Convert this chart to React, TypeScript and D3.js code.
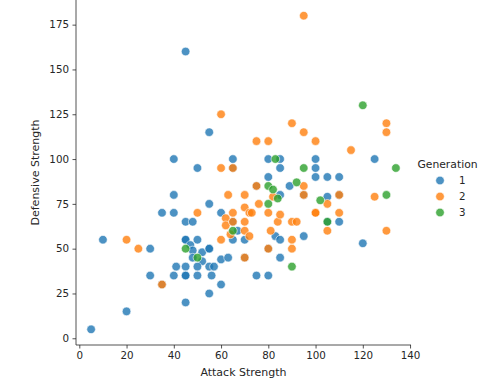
import { useRef, useEffect } from 'react';
import * as d3 from 'd3';

// attack / defense pairs, one list per generation
const gen1: [number, number][] = [
  [5, 5], [10, 55], [20, 15], [30, 50], [30, 35], [35, 70], [35, 30], [40, 100], [40, 80],
  [40, 70], [40, 35], [41, 40], [45, 160], [45, 65], [48, 65], [45, 55], [45, 55], [50, 55],
  [47, 52], [48, 49], [52, 48], [55, 50], [55, 50], [48, 45], [52, 43], [45, 40], [50, 40],
  [55, 40], [57, 40], [60, 44], [63, 45], [45, 35], [45, 35], [50, 35], [56, 35], [60, 30],
  [55, 25], [45, 20], [75, 35], [80, 35], [65, 55], [70, 55], [83, 57], [50, 95], [55, 115],
  [55, 75], [60, 70], [65, 100], [65, 95], [65, 65], [67, 60], [70, 45], [80, 50], [80, 100],
  [85, 100], [85, 95], [80, 90], [75, 85], [89, 85], [85, 80], [85, 55], [85, 45], [95, 57],
  [95, 80], [100, 100], [100, 95], [100, 90], [105, 90], [110, 90], [105, 79], [110, 80],
  [110, 65], [105, 65], [120, 53], [125, 100],
];

const gen2: [number, number][] = [
  [20, 55], [25, 50], [35, 30], [50, 70], [60, 125], [60, 95], [65, 95], [63, 80], [70, 80],
  [70, 73], [65, 70], [72, 70], [62, 67], [62, 63], [65, 65], [70, 65], [70, 60], [64, 58],
  [72, 57], [60, 55], [70, 45], [80, 50], [75, 85], [76, 75], [73, 70], [80, 70], [82, 79],
  [84, 65], [85, 69], [90, 65], [92, 65], [81, 60], [90, 55], [90, 50], [95, 180], [90, 120],
  [95, 115], [75, 110], [80, 110], [100, 110], [95, 85], [95, 80], [100, 70], [100, 70],
  [105, 75], [105, 60], [110, 70], [110, 80], [115, 105], [125, 79], [130, 120], [130, 115],
  [130, 60],
];

const gen3: [number, number][] = [
  [45, 50], [50, 45], [65, 60], [80, 85], [82, 83], [84, 78], [80, 75], [83, 100], [92, 87],
  [95, 95], [102, 77], [105, 65], [90, 40], [120, 130], [130, 80], [134, 95],
];

const generations = ['1', '2', '3'];
const xTicks = [0, 20, 40, 60, 80, 100, 120, 140];
const yTicks = [0, 25, 50, 75, 100, 125, 150, 175];

export default function App() {
  const ref = useRef<SVGSVGElement>(null);

  useEffect(() => {
    if (!ref.current) return;
    const width = 500;
    const height = 392;
    const svg = d3.select(ref.current);
    svg.selectAll('*').remove();

    const left = 76;
    const right = 411;
    const top = 0;
    const bottom = 345;
    const ink = '#262626';
    const font = 'DejaVu Sans, sans-serif';

    const x = d3.scaleLinear().domain([-1.4, 140.4]).range([left, right]);
    const y = d3.scaleLinear().domain([-3.75, 188.75]).range([bottom, top]);
    const color = d3.scaleOrdinal<string>().domain(generations).range(['#1f77b4', '#ff7f0e', '#2ca02c']);

    // points, in data order like seaborn draws them
    const pts = [
      ...gen1.map(d => ({ a: d[0], b: d[1], g: '1' })),
      ...gen2.map(d => ({ a: d[0], b: d[1], g: '2' })),
      ...gen3.map(d => ({ a: d[0], b: d[1], g: '3' })),
    ];
    svg.append('g')
      .selectAll('circle')
      .data(pts)
      .join('circle')
      .attr('cx', d => x(d.a))
      .attr('cy', d => y(d.b))
      .attr('r', 4.3)
      .attr('fill', d => color(d.g))
      .attr('fill-opacity', 0.8)
      .attr('stroke', 'white')
      .attr('stroke-width', 0.6);

    const xAxis = svg.append('g')
      .attr('transform', `translate(0,${bottom})`)
      .call(d3.axisBottom(x).tickValues(xTicks).tickSize(3.5).tickPadding(3.5));
    const yAxis = svg.append('g')
      .attr('transform', `translate(${left},0)`)
      .call(d3.axisLeft(y).tickValues(yTicks).tickSize(3.5).tickPadding(3.5));

    [xAxis, yAxis].forEach(ax => {
      ax.select('.domain').remove();
      ax.selectAll('line').attr('stroke', ink).attr('stroke-width', 0.8);
      ax.selectAll('text').attr('fill', ink).attr('font-size', 10.3).attr('font-family', font);
    });

    // spines (left + bottom only)
    svg.append('line').attr('x1', left).attr('x2', left).attr('y1', top).attr('y2', bottom)
      .attr('stroke', ink).attr('stroke-width', 0.8);
    svg.append('line').attr('x1', left).attr('x2', right).attr('y1', bottom).attr('y2', bottom)
      .attr('stroke', ink).attr('stroke-width', 0.8);

    svg.append('text')
      .attr('x', (left + right) / 2).attr('y', 376)
      .attr('text-anchor', 'middle').attr('font-size', 11).attr('font-family', font).attr('fill', ink)
      .text('Attack Strength');
    svg.append('text')
      .attr('transform', `translate(39,${(top + bottom) / 2}) rotate(-90)`)
      .attr('text-anchor', 'middle').attr('font-size', 11).attr('font-family', font).attr('fill', ink)
      .text('Defensive Strength');

    // legend
    const lg = svg.append('g').attr('font-family', font).attr('fill', ink);
    lg.append('text').attr('x', 447.5).attr('y', 168).attr('text-anchor', 'middle')
      .attr('font-size', 10.8).text('Generation');
    generations.forEach((g, i) => {
      const cy = 180.5 + i * 16;
      lg.append('circle').attr('cx', 440).attr('cy', cy).attr('r', 4.3)
        .attr('fill', color(g)).attr('fill-opacity', 0.8)
        .attr('stroke', 'white').attr('stroke-width', 0.6);
      lg.append('text').attr('x', 459).attr('y', cy + 3.7).attr('font-size', 10.3).text(g);
    });

    svg.attr('width', width).attr('height', height);
  }, []);

  return (
    <svg
      ref={ref}
      width={500}
      height={392}
      style={{ position: 'absolute', left: 0, top: 0, background: 'white', display: 'block' }}
    />
  );
}
